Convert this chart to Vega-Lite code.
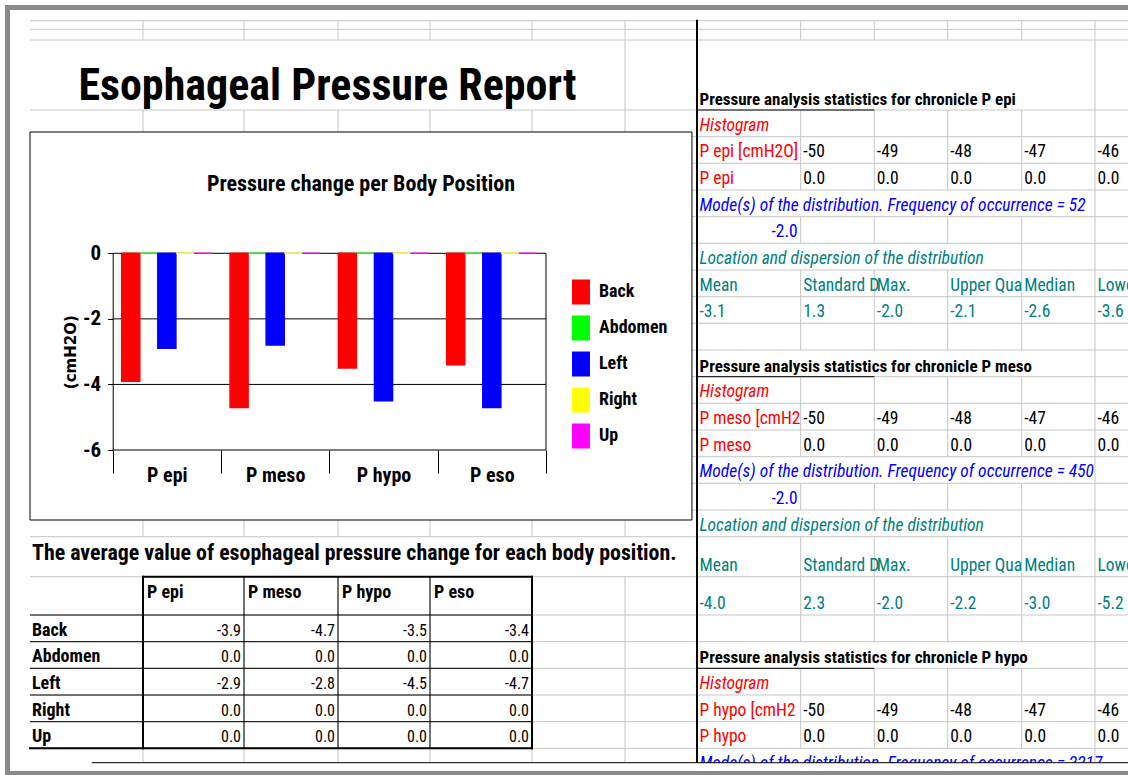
{
  "$schema": "https://vega.github.io/schema/vega-lite/v6.json",
  "width": 1128,
  "height": 775,
  "autosize": {"type": "none"},
  "padding": 0,
  "background": "white",
  "config": {
    "view": {"stroke": null},
    "locale": {"number": {"decimal": ".", "thousands": ",", "grouping": [3], "currency": ["$", ""], "minus": "-"}}
  },
  "datasets": {
    "vals": [
      {"probe": "P epi", "body": "Back", "v": -3.9},
      {"probe": "P epi", "body": "Abdomen", "v": 0},
      {"probe": "P epi", "body": "Left", "v": -2.9},
      {"probe": "P epi", "body": "Right", "v": 0},
      {"probe": "P epi", "body": "Up", "v": 0},
      {"probe": "P meso", "body": "Back", "v": -4.7},
      {"probe": "P meso", "body": "Abdomen", "v": 0},
      {"probe": "P meso", "body": "Left", "v": -2.8},
      {"probe": "P meso", "body": "Right", "v": 0},
      {"probe": "P meso", "body": "Up", "v": 0},
      {"probe": "P hypo", "body": "Back", "v": -3.5},
      {"probe": "P hypo", "body": "Abdomen", "v": 0},
      {"probe": "P hypo", "body": "Left", "v": -4.5},
      {"probe": "P hypo", "body": "Right", "v": 0},
      {"probe": "P hypo", "body": "Up", "v": 0},
      {"probe": "P eso", "body": "Back", "v": -3.4},
      {"probe": "P eso", "body": "Abdomen", "v": 0},
      {"probe": "P eso", "body": "Left", "v": -4.7},
      {"probe": "P eso", "body": "Right", "v": 0},
      {"probe": "P eso", "body": "Up", "v": 0}
    ],
    "colHeads": [
      {"probe": "P epi", "c": 1, "c2": 2},
      {"probe": "P meso", "c": 2, "c2": 3},
      {"probe": "P hypo", "c": 3, "c2": 4},
      {"probe": "P eso", "c": 4, "c2": 5}
    ],
    "rowHeads": [
      {"body": "Back", "b": 22},
      {"body": "Abdomen", "b": 23},
      {"body": "Left", "b": 24},
      {"body": "Right", "b": 25},
      {"body": "Up", "b": 26}
    ],
    "grid": [
      {"c": 0, "c2": 13, "b": 0, "b2": 0}, {"c": 0, "c2": 13, "b": 1, "b2": 1}, {"c": 0, "c2": 13, "b": 2, "b2": 2},
      {"c": 0, "c2": 13, "b": 3, "b2": 3}, {"c": 0, "c2": 13, "b": 4, "b2": 4}, {"c": 0, "c2": 13, "b": 5, "b2": 5},
      {"c": 0, "c2": 13, "b": 6, "b2": 6}, {"c": 0, "c2": 13, "b": 7, "b2": 7}, {"c": 0, "c2": 13, "b": 8, "b2": 8},
      {"c": 0, "c2": 13, "b": 9, "b2": 9}, {"c": 0, "c2": 13, "b": 10, "b2": 10}, {"c": 0, "c2": 13, "b": 11, "b2": 11},
      {"c": 0, "c2": 13, "b": 12, "b2": 12}, {"c": 0, "c2": 13, "b": 13, "b2": 13}, {"c": 0, "c2": 13, "b": 14, "b2": 14},
      {"c": 0, "c2": 13, "b": 15, "b2": 15}, {"c": 0, "c2": 13, "b": 16, "b2": 16}, {"c": 0, "c2": 13, "b": 17, "b2": 17},
      {"c": 0, "c2": 13, "b": 18, "b2": 18}, {"c": 0, "c2": 13, "b": 19, "b2": 19}, {"c": 0, "c2": 13, "b": 20, "b2": 20},
      {"c": 0, "c2": 13, "b": 21, "b2": 21}, {"c": 0, "c2": 13, "b": 22, "b2": 22}, {"c": 0, "c2": 13, "b": 23, "b2": 23},
      {"c": 0, "c2": 13, "b": 24, "b2": 24}, {"c": 0, "c2": 13, "b": 25, "b2": 25}, {"c": 0, "c2": 13, "b": 26, "b2": 26},
      {"c": 1, "c2": 1, "b": 0, "b2": 2}, {"c": 1, "c2": 1, "b": 3, "b2": 19}, {"c": 1, "c2": 1, "b": 20, "b2": 27},
      {"c": 2, "c2": 2, "b": 0, "b2": 2}, {"c": 2, "c2": 2, "b": 3, "b2": 19}, {"c": 2, "c2": 2, "b": 20, "b2": 27},
      {"c": 3, "c2": 3, "b": 0, "b2": 2}, {"c": 3, "c2": 3, "b": 3, "b2": 19}, {"c": 3, "c2": 3, "b": 20, "b2": 27},
      {"c": 4, "c2": 4, "b": 0, "b2": 2}, {"c": 4, "c2": 4, "b": 3, "b2": 19}, {"c": 4, "c2": 4, "b": 20, "b2": 27},
      {"c": 5, "c2": 5, "b": 0, "b2": 2}, {"c": 5, "c2": 5, "b": 3, "b2": 19}, {"c": 5, "c2": 5, "b": 20, "b2": 27},
      {"c": 6, "c2": 6, "b": 0, "b2": 19}, {"c": 6, "c2": 6, "b": 20, "b2": 27},
      {"c": 8, "c2": 8, "b": 0, "b2": 2}, {"c": 8, "c2": 8, "b": 3, "b2": 6}, {"c": 8, "c2": 8, "b": 7, "b2": 8}, {"c": 8, "c2": 8, "b": 9, "b2": 12},
      {"c": 8, "c2": 8, "b": 13, "b2": 16}, {"c": 8, "c2": 8, "b": 17, "b2": 18}, {"c": 8, "c2": 8, "b": 19, "b2": 22}, {"c": 8, "c2": 8, "b": 23, "b2": 26},
      {"c": 9, "c2": 9, "b": 0, "b2": 2}, {"c": 9, "c2": 9, "b": 3, "b2": 6}, {"c": 9, "c2": 9, "b": 7, "b2": 8}, {"c": 9, "c2": 9, "b": 9, "b2": 12},
      {"c": 9, "c2": 9, "b": 13, "b2": 16}, {"c": 9, "c2": 9, "b": 17, "b2": 18}, {"c": 9, "c2": 9, "b": 19, "b2": 22}, {"c": 9, "c2": 9, "b": 23, "b2": 26},
      {"c": 10, "c2": 10, "b": 0, "b2": 2}, {"c": 10, "c2": 10, "b": 3, "b2": 6}, {"c": 10, "c2": 10, "b": 7, "b2": 8}, {"c": 10, "c2": 10, "b": 9, "b2": 12},
      {"c": 10, "c2": 10, "b": 13, "b2": 16}, {"c": 10, "c2": 10, "b": 17, "b2": 18}, {"c": 10, "c2": 10, "b": 19, "b2": 22}, {"c": 10, "c2": 10, "b": 23, "b2": 26},
      {"c": 11, "c2": 11, "b": 0, "b2": 2}, {"c": 11, "c2": 11, "b": 3, "b2": 6}, {"c": 11, "c2": 11, "b": 7, "b2": 12},
      {"c": 11, "c2": 11, "b": 13, "b2": 16}, {"c": 11, "c2": 11, "b": 17, "b2": 22}, {"c": 11, "c2": 11, "b": 23, "b2": 26},
      {"c": 12, "c2": 12, "b": 0, "b2": 27}
    ],
    "thin": [
      {"c": 7, "c2": 9, "b": 3, "b2": 3}, {"c": 7, "c2": 9, "b": 13, "b2": 13}, {"c": 7, "c2": 9, "b": 23, "b2": 23},
      {"c": 0, "c2": 5, "b": 21, "b2": 21}, {"c": 0, "c2": 5, "b": 22, "b2": 22}, {"c": 0, "c2": 5, "b": 23, "b2": 23},
      {"c": 0, "c2": 5, "b": 24, "b2": 24}, {"c": 0, "c2": 5, "b": 25, "b2": 25},
      {"c": 2, "c2": 2, "b": 20, "b2": 26}, {"c": 3, "c2": 3, "b": 20, "b2": 26}, {"c": 4, "c2": 4, "b": 20, "b2": 26}
    ],
    "thick": [
      {"c": 1, "c2": 5, "b": 20, "b2": 20}, {"c": 0, "c2": 5, "b": 26, "b2": 26},
      {"c": 1, "c2": 1, "b": 20, "b2": 26}, {"c": 5, "c2": 5, "b": 20, "b2": 26},
      {"c": 7, "c2": 7, "b": 0, "b2": 27}
    ],
    "cells": [
      {"c": 7, "b": 3, "t": "Pressure analysis statistics for chronicle P epi", "k": "secTitle"},
      {"c": 7, "b": 4, "t": "Histogram", "k": "histNote"},
      {"c": 7, "b": 5, "t": "P epi [cmH2O]", "k": "histVar"},
      {"c": 8, "b": 5, "t": "-50", "k": "histVal"}, {"c": 9, "b": 5, "t": "-49", "k": "histVal"}, {"c": 10, "b": 5, "t": "-48", "k": "histVal"}, {"c": 11, "b": 5, "t": "-47", "k": "histVal"}, {"c": 12, "b": 5, "t": "-46", "k": "histVal"},
      {"c": 7, "b": 6, "t": "P epi", "k": "histVar"},
      {"c": 8, "b": 6, "t": "0.0", "k": "histVal"}, {"c": 9, "b": 6, "t": "0.0", "k": "histVal"}, {"c": 10, "b": 6, "t": "0.0", "k": "histVal"}, {"c": 11, "b": 6, "t": "0.0", "k": "histVal"}, {"c": 12, "b": 6, "t": "0.0", "k": "histVal"},
      {"c": 7, "b": 7, "t": "Mode(s) of the distribution. Frequency of occurrence = 52", "k": "modeNote"},
      {"c": 8, "b": 8, "t": "-2.0", "k": "modeVal"},
      {"c": 7, "b": 9, "t": "Location and dispersion of the distribution", "k": "locNote"},
      {"c": 7, "b": 10, "t": "Mean", "k": "stat"}, {"c": 8, "b": 10, "t": "Standard D", "k": "stat"}, {"c": 9, "b": 10, "t": "Max.", "k": "stat"}, {"c": 10, "b": 10, "t": "Upper Qua", "k": "stat"}, {"c": 11, "b": 10, "t": "Median", "k": "stat"}, {"c": 12, "b": 10, "t": "Lower Qua", "k": "stat"},
      {"c": 7, "b": 11, "t": "-3.1", "k": "stat"}, {"c": 8, "b": 11, "t": "1.3", "k": "stat"}, {"c": 9, "b": 11, "t": "-2.0", "k": "stat"}, {"c": 10, "b": 11, "t": "-2.1", "k": "stat"}, {"c": 11, "b": 11, "t": "-2.6", "k": "stat"}, {"c": 12, "b": 11, "t": "-3.6", "k": "stat"},
      {"c": 7, "b": 13, "t": "Pressure analysis statistics for chronicle P meso", "k": "secTitle"},
      {"c": 7, "b": 14, "t": "Histogram", "k": "histNote"},
      {"c": 7, "b": 15, "t": "P meso [cmH2", "k": "histVar"},
      {"c": 8, "b": 15, "t": "-50", "k": "histVal"}, {"c": 9, "b": 15, "t": "-49", "k": "histVal"}, {"c": 10, "b": 15, "t": "-48", "k": "histVal"}, {"c": 11, "b": 15, "t": "-47", "k": "histVal"}, {"c": 12, "b": 15, "t": "-46", "k": "histVal"},
      {"c": 7, "b": 16, "t": "P meso", "k": "histVar"},
      {"c": 8, "b": 16, "t": "0.0", "k": "histVal"}, {"c": 9, "b": 16, "t": "0.0", "k": "histVal"}, {"c": 10, "b": 16, "t": "0.0", "k": "histVal"}, {"c": 11, "b": 16, "t": "0.0", "k": "histVal"}, {"c": 12, "b": 16, "t": "0.0", "k": "histVal"},
      {"c": 7, "b": 17, "t": "Mode(s) of the distribution. Frequency of occurrence = 450", "k": "modeNote"},
      {"c": 8, "b": 18, "t": "-2.0", "k": "modeVal"},
      {"c": 7, "b": 19, "t": "Location and dispersion of the distribution", "k": "locNote"},
      {"c": 7, "b": 20, "t": "Mean", "k": "stat"}, {"c": 8, "b": 20, "t": "Standard D", "k": "stat"}, {"c": 9, "b": 20, "t": "Max.", "k": "stat"}, {"c": 10, "b": 20, "t": "Upper Qua", "k": "stat"}, {"c": 11, "b": 20, "t": "Median", "k": "stat"}, {"c": 12, "b": 20, "t": "Lower Qua", "k": "stat"},
      {"c": 7, "b": 21, "t": "-4.0", "k": "stat"}, {"c": 8, "b": 21, "t": "2.3", "k": "stat"}, {"c": 9, "b": 21, "t": "-2.0", "k": "stat"}, {"c": 10, "b": 21, "t": "-2.2", "k": "stat"}, {"c": 11, "b": 21, "t": "-3.0", "k": "stat"}, {"c": 12, "b": 21, "t": "-5.2", "k": "stat"},
      {"c": 7, "b": 23, "t": "Pressure analysis statistics for chronicle P hypo", "k": "secTitle"},
      {"c": 7, "b": 24, "t": "Histogram", "k": "histNote"},
      {"c": 7, "b": 25, "t": "P hypo [cmH2", "k": "histVar"},
      {"c": 8, "b": 25, "t": "-50", "k": "histVal"}, {"c": 9, "b": 25, "t": "-49", "k": "histVal"}, {"c": 10, "b": 25, "t": "-48", "k": "histVal"}, {"c": 11, "b": 25, "t": "-47", "k": "histVal"}, {"c": 12, "b": 25, "t": "-46", "k": "histVal"},
      {"c": 7, "b": 26, "t": "P hypo", "k": "histVar"},
      {"c": 8, "b": 26, "t": "0.0", "k": "histVal"}, {"c": 9, "b": 26, "t": "0.0", "k": "histVal"}, {"c": 10, "b": 26, "t": "0.0", "k": "histVal"}, {"c": 11, "b": 26, "t": "0.0", "k": "histVal"}, {"c": 12, "b": 26, "t": "0.0", "k": "histVal"},
      {"c": 7, "b": 27, "t": "Mode(s) of the distribution. Frequency of occurrence = 2217", "k": "modeNote"}
    ]
  },
  "resolve": {
    "scale": {"x": "independent", "y": "independent", "color": "independent"},
    "axis": {"x": "independent", "y": "independent"},
    "legend": {"color": "independent"}
  },
  "layer": [
    {
      "layer": [
        {
          "data": {"name": "grid"},
          "mark": {"type": "rule", "color": "#c6c6c6", "strokeWidth": 1},
          "encoding": {
            "x": {"field": "c", "type": "quantitative", "axis": null,
                  "scale": {"type": "linear", "nice": false, "zero": false,
                            "domain": [-1, 0, 1, 2, 3, 4, 5, 6, 7, 8, 9, 10, 11, 12, 13],
                            "range": [0, 30, 143, 244, 338, 430, 532, 625, 697, 800.7, 874.3, 947.7, 1021.7, 1095, 1168]}},
            "x2": {"field": "c2"},
            "y": {"field": "b", "type": "quantitative", "axis": null,
                  "scale": {"type": "linear", "nice": false, "zero": false,
                            "domain": [-1, 0, 1, 2, 3, 4, 5, 6, 7, 8, 9, 10, 11, 12, 13, 14, 15, 16, 17, 18, 19, 20, 21, 22, 23, 24, 25, 26, 27],
                            "range": [0, 20.7, 29.3, 40, 110, 136.7, 163.3, 190, 216.7, 243.3, 270, 296.7, 323.3, 350, 376.7, 403.3, 430, 456.7, 483.3, 510, 536.7, 576.7, 615, 641.7, 668.3, 695, 721.7, 748.3, 775]}},
            "y2": {"field": "b2"}
          }
        },
        {
          "data": {"values": [{}]},
          "mark": {"type": "rect", "fill": "white", "stroke": "black", "strokeWidth": 1},
          "encoding": {
            "x": {"datum": 0, "type": "quantitative", "axis": null},
            "x2": {"datum": 6.93},
            "y": {"datum": 3.824, "type": "quantitative", "axis": null},
            "y2": {"datum": 18.375}
          }
        },
        {
          "data": {"values": [{}]},
          "mark": {"type": "text", "text": "Pressure change per Body Position", "font": "Roboto Condensed, Liberation Sans Narrow, Liberation Sans, sans-serif", "fontSize": 22, "fontWeight": "bold", "align": "center", "baseline": "alphabetic", "dy": 1, "color": "black"},
          "encoding": {
            "x": {"datum": 3.25, "type": "quantitative", "axis": null},
            "y": {"datum": 6, "type": "quantitative", "axis": null}
          }
        },
        {
          "data": {"name": "thin"},
          "mark": {"type": "rule", "color": "black", "strokeWidth": 1},
          "encoding": {
            "x": {"field": "c", "type": "quantitative", "axis": null},
            "x2": {"field": "c2"},
            "y": {"field": "b", "type": "quantitative", "axis": null},
            "y2": {"field": "b2"}
          }
        },
        {
          "data": {"name": "thick"},
          "mark": {"type": "rule", "color": "black", "strokeWidth": 2, "strokeCap": "square"},
          "encoding": {
            "x": {"field": "c", "type": "quantitative", "axis": null},
            "x2": {"field": "c2"},
            "y": {"field": "b", "type": "quantitative", "axis": null},
            "y2": {"field": "b2"}
          }
        },
        {
          "data": {"values": [{}]},
          "mark": {"type": "text", "text": "Esophageal Pressure Report", "font": "Roboto Condensed, Liberation Sans Narrow, Liberation Sans, sans-serif", "fontSize": 44, "fontWeight": "bold", "align": "center", "baseline": "alphabetic", "dy": -10, "color": "black"},
          "encoding": {
            "x": {"datum": 2.888, "type": "quantitative", "axis": null},
            "y": {"datum": 3, "type": "quantitative", "axis": null}
          }
        },
        {
          "data": {"values": [{}]},
          "mark": {"type": "text", "text": "The average value of esophageal pressure change for each body position.", "font": "Roboto Condensed, Liberation Sans Narrow, Liberation Sans, sans-serif", "fontSize": 21.9, "fontWeight": "bold", "align": "left", "baseline": "alphabetic", "dx": 2, "dy": -17, "color": "black"},
          "encoding": {
            "x": {"datum": 0, "type": "quantitative", "axis": null},
            "y": {"datum": 20, "type": "quantitative", "axis": null}
          }
        },
        {
          "data": {"name": "colHeads"},
          "mark": {"type": "text", "font": "Roboto Condensed, Liberation Sans Narrow, Liberation Sans, sans-serif", "fontSize": 18, "fontWeight": "bold", "align": "left", "baseline": "alphabetic", "dx": 4, "dy": -17, "color": "black"},
          "encoding": {
            "x": {"field": "c", "type": "quantitative", "axis": null},
            "y": {"datum": 21, "type": "quantitative", "axis": null},
            "text": {"field": "probe"}
          }
        },
        {
          "data": {"name": "rowHeads"},
          "mark": {"type": "text", "font": "Roboto Condensed, Liberation Sans Narrow, Liberation Sans, sans-serif", "fontSize": 18, "fontWeight": "bold", "align": "left", "baseline": "alphabetic", "dx": 2, "dy": -6, "color": "black"},
          "encoding": {
            "x": {"datum": 0, "type": "quantitative", "axis": null},
            "y": {"field": "b", "type": "quantitative", "axis": null},
            "text": {"field": "body"}
          }
        },
        {
          "data": {"name": "vals"},
          "transform": [
            {"lookup": "probe", "from": {"data": {"name": "colHeads"}, "key": "probe", "fields": ["c2"]}},
            {"lookup": "body", "from": {"data": {"name": "rowHeads"}, "key": "body", "fields": ["b"]}}
          ],
          "mark": {"type": "text", "font": "Roboto Condensed, Liberation Sans Narrow, Liberation Sans, sans-serif", "fontSize": 16, "align": "right", "baseline": "alphabetic", "dx": -3, "dy": -6, "color": "black"},
          "encoding": {
            "x": {"field": "c2", "type": "quantitative", "axis": null},
            "y": {"field": "b", "type": "quantitative", "axis": null},
            "text": {"field": "v", "type": "quantitative", "format": ".1f"}
          }
        },
        {
          "data": {"name": "cells"},
          "transform": [{"filter": "datum.k === 'secTitle'"}],
          "mark": {"type": "text", "font": "Roboto Condensed, Liberation Sans Narrow, Liberation Sans, sans-serif", "fontSize": 17, "fontWeight": "bold", "align": "left", "baseline": "alphabetic", "dx": 2.5, "dy": -5, "color": "black"},
          "encoding": {
            "x": {"field": "c", "type": "quantitative", "axis": null},
            "y": {"field": "b", "type": "quantitative", "axis": null},
            "text": {"field": "t"}
          }
        },
        {
          "data": {"name": "cells"},
          "transform": [{"filter": "datum.k === 'histNote' || datum.k === 'modeNote' || datum.k === 'locNote'"}],
          "mark": {"type": "text", "font": "Roboto Condensed, Liberation Sans Narrow, Liberation Sans, sans-serif", "fontSize": 17.5, "fontStyle": "italic", "align": "left", "baseline": "alphabetic", "dx": 2.5, "dy": -6},
          "encoding": {
            "x": {"field": "c", "type": "quantitative", "axis": null},
            "y": {"field": "b", "type": "quantitative", "axis": null},
            "text": {"field": "t"},
            "color": {"field": "k", "type": "nominal", "legend": null,
                      "scale": {"domain": ["secTitle", "histNote", "histVar", "histVal", "modeNote", "modeVal", "locNote", "stat"],
                                "range": ["#000000", "#ff0000", "#ff0000", "#000000", "#0000ff", "#0000ff", "#008080", "#008080"]}}
          }
        },
        {
          "data": {"name": "cells"},
          "transform": [{"filter": "datum.k === 'histVar' || datum.k === 'histVal' || datum.k === 'stat'"}],
          "mark": {"type": "text", "font": "Roboto Condensed, Liberation Sans Narrow, Liberation Sans, sans-serif", "fontSize": 17.5, "align": "left", "baseline": "alphabetic", "dx": 2.5, "dy": -6},
          "encoding": {
            "x": {"field": "c", "type": "quantitative", "axis": null},
            "y": {"field": "b", "type": "quantitative", "axis": null},
            "text": {"field": "t"},
            "color": {"field": "k", "type": "nominal", "legend": null}
          }
        },
        {
          "data": {"name": "cells"},
          "transform": [{"filter": "datum.k === 'modeVal'"}],
          "mark": {"type": "text", "font": "Roboto Condensed, Liberation Sans Narrow, Liberation Sans, sans-serif", "fontSize": 17.5, "align": "right", "baseline": "alphabetic", "dx": -3, "dy": -6},
          "encoding": {
            "x": {"field": "c", "type": "quantitative", "axis": null},
            "y": {"field": "b", "type": "quantitative", "axis": null},
            "text": {"field": "t"},
            "color": {"field": "k", "type": "nominal", "legend": null}
          }
        },
        {
          "data": {"values": [{}]},
          "mark": {"type": "rect", "fill": "white"},
          "encoding": {
            "x": {"datum": -1, "type": "quantitative", "axis": null},
            "x2": {"datum": 13},
            "y": {"datum": 26.551, "type": "quantitative", "axis": null},
            "y2": {"datum": 27.5}
          }
        },
        {
          "data": {"values": [{}]},
          "mark": {"type": "rule", "color": "black", "strokeWidth": 1},
          "encoding": {
            "x": {"datum": 0.546, "type": "quantitative", "axis": null},
            "x2": {"datum": 13},
            "y": {"datum": 26.54, "type": "quantitative", "axis": null}
          }
        },
        {
          "data": {"values": [{}]},
          "mark": {"type": "rect", "filled": false, "stroke": "#8a8a8a", "strokeWidth": 5},
          "encoding": {
            "x": {"datum": -0.75, "type": "quantitative", "axis": null},
            "x2": {"datum": 12.62},
            "y": {"datum": -0.638, "type": "quantitative", "axis": null},
            "y2": {"datum": 26.944}
          }
        }
      ]
    },
    {
      "layer": [
        {
          "data": {"values": [{"v": 0}, {"v": -2}, {"v": -4}, {"v": -6}]},
          "mark": {"type": "rule", "color": "black", "strokeWidth": 1},
          "encoding": {
            "x": {"datum": "P epi", "type": "nominal", "bandPosition": 0,
                  "scale": {"type": "band", "domain": ["P epi", "P meso", "P hypo", "P eso"], "range": [112.7, 546], "paddingInner": 0, "paddingOuter": 0}},
            "x2": {"datum": "P eso", "bandPosition": 1},
            "y": {"field": "v", "type": "quantitative",
                  "scale": {"domain": [-6, 0], "range": [450, 253.3], "nice": false, "zero": false},
                  "axis": {"orient": "left", "offset": -112.7, "values": [0, -2, -4, -6], "grid": false, "zindex": 2,
                           "domain": true, "domainColor": "black", "domainWidth": 1,
                           "ticks": true, "tickSize": 5, "tickColor": "black", "tickWidth": 1,
                           "labelFont": "Roboto Condensed, Liberation Sans Narrow, Liberation Sans, sans-serif", "labelFontSize": 21, "labelFontWeight": "bold", "labelColor": "black", "labelPadding": 7,
                           "labelExpr": "'' + datum.value",
                           "title": "(cmH2O)", "titleFont": "DejaVu Sans", "titleFontSize": 15, "titleFontWeight": "bold", "titleColor": "black",
                           "titleX": -42.7, "titleY": 351.7, "titleAngle": 270, "titleAlign": "center", "titleBaseline": "middle"}}
          }
        },
        {
          "data": {"values": [{}]},
          "mark": {"type": "rule", "color": "black", "strokeWidth": 1},
          "encoding": {
            "x": {"datum": "P eso", "type": "nominal", "bandPosition": 1},
            "y": {"datum": 0, "type": "quantitative"},
            "y2": {"datum": -6}
          }
        },
        {
          "data": {"name": "vals"},
          "mark": {"type": "bar", "strokeWidth": 1.5},
          "encoding": {
            "x": {"field": "probe", "type": "nominal", "sort": null,
                  "scale": {"type": "band", "domain": ["P epi", "P meso", "P hypo", "P eso"], "range": [112.7, 546], "paddingInner": 0, "paddingOuter": 0},
                  "axis": {"orient": "bottom", "offset": -325, "title": null, "domain": false, "grid": false, "zindex": 2,
                           "ticks": true, "tickBand": "extent", "tickSize": 23, "tickColor": "black", "tickWidth": 1,
                           "labelAngle": 0, "labelAlign": "center", "labelFont": "Roboto Condensed, Liberation Sans Narrow, Liberation Sans, sans-serif", "labelFontSize": 20, "labelFontWeight": "bold", "labelColor": "black",
                           "labelPadding": -8, "labelBaseline": "top"}},
            "xOffset": {"field": "body", "type": "nominal",
                        "scale": {"domain": ["Back", "Abdomen", "Left", "Right", "Up"], "paddingInner": 0, "paddingOuter": 0.5}},
            "y": {"field": "v", "type": "quantitative",
                  "scale": {"domain": [-6, 0], "range": [450, 253.3], "nice": false, "zero": false},
                  "axis": {"orient": "left", "offset": -112.7, "values": [0, -2, -4, -6], "grid": false, "zindex": 2,
                           "domain": true, "domainColor": "black", "domainWidth": 1,
                           "ticks": true, "tickSize": 5, "tickColor": "black", "tickWidth": 1,
                           "labelFont": "Roboto Condensed, Liberation Sans Narrow, Liberation Sans, sans-serif", "labelFontSize": 21, "labelFontWeight": "bold", "labelColor": "black", "labelPadding": 7,
                           "labelExpr": "'' + datum.value",
                           "title": "(cmH2O)", "titleFont": "DejaVu Sans", "titleFontSize": 15, "titleFontWeight": "bold", "titleColor": "black",
                           "titleX": -42.7, "titleY": 351.7, "titleAngle": 270, "titleAlign": "center", "titleBaseline": "middle"}},
            "color": {"field": "body", "type": "nominal",
                      "scale": {"domain": ["Back", "Abdomen", "Left", "Right", "Up"], "range": ["#ff0000", "#00ff00", "#0000ff", "#ffff00", "#ff00ff"]},
                      "legend": {"orient": "none", "legendX": 568.5, "legendY": 279.5, "title": null, "direction": "vertical",
                                 "symbolType": "M-0.72,-1H0.72V1H-0.72Z", "symbolSize": 625, "symbolStrokeWidth": 0, "symbolOpacity": 1,
                                 "labelFont": "Roboto Condensed, Liberation Sans Narrow, Liberation Sans, sans-serif", "labelFontSize": 18, "labelFontWeight": "bold", "labelColor": "black",
                                 "labelOffset": 5.5, "rowPadding": 11, "padding": 0}},
            "stroke": {"field": "body", "type": "nominal",
                       "scale": {"domain": ["Back", "Abdomen", "Left", "Right", "Up"], "range": ["#ff0000", "#00ff00", "#0000ff", "#ffff00", "#ff00ff"]},
                       "legend": null}
          }
        }
      ]
    }
  ]
}
